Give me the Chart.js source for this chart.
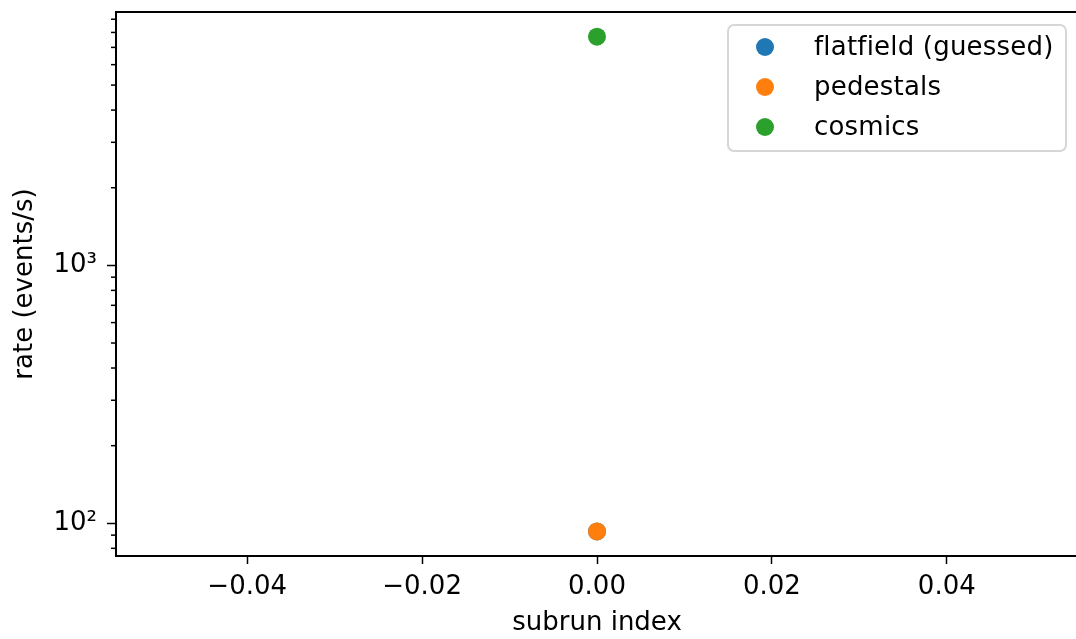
<!DOCTYPE html>
<html>
<head>
<meta charset="utf-8">
<script src="https://cdn.jsdelivr.net/npm/chart.js@4.4.1/dist/chart.umd.min.js"></script>
<style>
  html, body { margin: 0; padding: 0; background: #fff; overflow: hidden; }
  canvas { display: block; }
</style>
</head>
<body>
<canvas id="chart" width="1087" height="639" style="width:1087px;height:639px"></canvas>
<script>
// data
const seriesNames = ["flatfield (guessed)", "pedestals", "cosmics"];
const seriesColors = ["#1f77b4", "#ff7f0e", "#2ca02c"];
const subrunIndex = [0, 0, 0];
const rates = [93, 93, 7700];

const xTicks = [-0.04, -0.02, 0, 0.02, 0.04];
const yTicks = [80, 90, 100, 200, 300, 400, 500, 600, 700, 800, 900,
  1000, 2000, 3000, 4000, 5000, 6000, 7000, 8000, 9000];
const supers = { 2: "\u00b2", 3: "\u00b3", 4: "\u2074" };

const FONT = "'DejaVu Sans', sans-serif";

function isPow10(v) {
  const l = Math.log10(v);
  return Math.abs(l - Math.round(l)) < 1e-9;
}

// frame, minor ticks and legend box (matplotlib style)
const framePlugin = {
  id: "frame",
  afterDraw(chart) {
    const { ctx, chartArea: a } = chart;
    const y = chart.scales.y;
    ctx.save();
    ctx.strokeStyle = "#000";
    ctx.lineWidth = 2;
    ctx.strokeRect(a.left, a.top, a.right - a.left, a.bottom - a.top);

    // minor ticks on the log axis
    ctx.lineWidth = 1.5;
    y.ticks.forEach(t => {
      if (isPow10(t.value)) return;
      const py = y.getPixelForValue(t.value);
      ctx.beginPath();
      ctx.moveTo(a.left - 5, py);
      ctx.lineTo(a.left, py);
      ctx.stroke();
    });

    // legend
    const bx = 728, by = 25, bw = 338, bh = 126, r = 6;
    ctx.beginPath();
    ctx.roundRect(bx, by, bw, bh, r);
    ctx.fillStyle = "rgba(255,255,255,0.8)";
    ctx.fill();
    ctx.strokeStyle = "#d6d6d6";
    ctx.lineWidth = 2;
    ctx.stroke();
    ctx.font = "26px " + FONT;
    ctx.letterSpacing = "0.2px";
    ctx.textBaseline = "middle";
    seriesNames.forEach((name, i) => {
      const cy = 47 + i * 40;
      ctx.beginPath();
      ctx.arc(765, cy, 9, 0, Math.PI * 2);
      ctx.fillStyle = seriesColors[i];
      ctx.fill();
      ctx.fillStyle = "#000";
      ctx.fillText(name, 814, cy + 1);
    });
    ctx.restore();
  }
};

const datasets = seriesNames.map((name, i) => ({
  label: name,
  data: [{ x: subrunIndex[i], y: rates[i] }],
  backgroundColor: seriesColors[i],
  borderColor: seriesColors[i],
  borderWidth: 0,
  pointRadius: 9,
  pointHoverRadius: 9,
  order: seriesNames.length - i
}));

// canvas is a bit wider than the window so the right spine falls off-screen
new Chart(document.getElementById("chart"), {
  type: "scatter",
  data: { datasets },
  plugins: [framePlugin],
  options: {
    responsive: false,
    animation: false,
    devicePixelRatio: 1,
    layout: { padding: { top: 12, right: 0, left: 0, bottom: 0 } },
    plugins: { legend: { display: false }, tooltip: { enabled: false } },
    scales: {
      x: {
        type: "linear",
        min: -0.055,
        max: 0.055,
        afterBuildTicks: s => { s.ticks = xTicks.map(v => ({ value: v })); },
        afterFit: s => { s.height = 83; s.paddingLeft = 0; s.paddingRight = 0; },
        border: { display: true, color: "#000", width: 2 },
        grid: { drawOnChartArea: false, drawTicks: true, tickLength: 8, tickColor: "#000", tickWidth: 1.5 },
        ticks: {
          color: "#000",
          padding: 8,
          font: { family: FONT, size: 26 },
          callback: v => v.toFixed(2).replace("-", "\u2212")
        },
        title: {
          display: true,
          text: "subrun index",
          color: "#000",
          font: { family: FONT, size: 26 },
          padding: { top: 0, bottom: 0 }
        }
      },
      y: {
        type: "logarithmic",
        min: 74.7,
        max: 9600,
        afterBuildTicks: s => { s.ticks = yTicks.map(v => ({ value: v })); },
        afterFit: s => { s.width = 116; s.paddingTop = 0; s.paddingBottom = 0; },
        border: { display: true, color: "#000", width: 2 },
        grid: {
          drawOnChartArea: false, drawTicks: true, tickLength: 9,
          tickColor: c => (c.tick && isPow10(c.tick.value)) ? "#000" : "rgba(0,0,0,0)",
          tickWidth: 1.5
        },
        ticks: {
          color: "#000",
          padding: 10,
          autoSkip: false,
          font: { family: FONT, size: 26 },
          callback: v => isPow10(v) ? "10" + supers[Math.round(Math.log10(v))] : ""
        },
        title: {
          display: true,
          text: "rate (events/s)",
          color: "#000",
          font: { family: FONT, size: 26 },
          padding: { top: 10, bottom: 0 }
        }
      }
    }
  }
});
</script>
</body>
</html>
